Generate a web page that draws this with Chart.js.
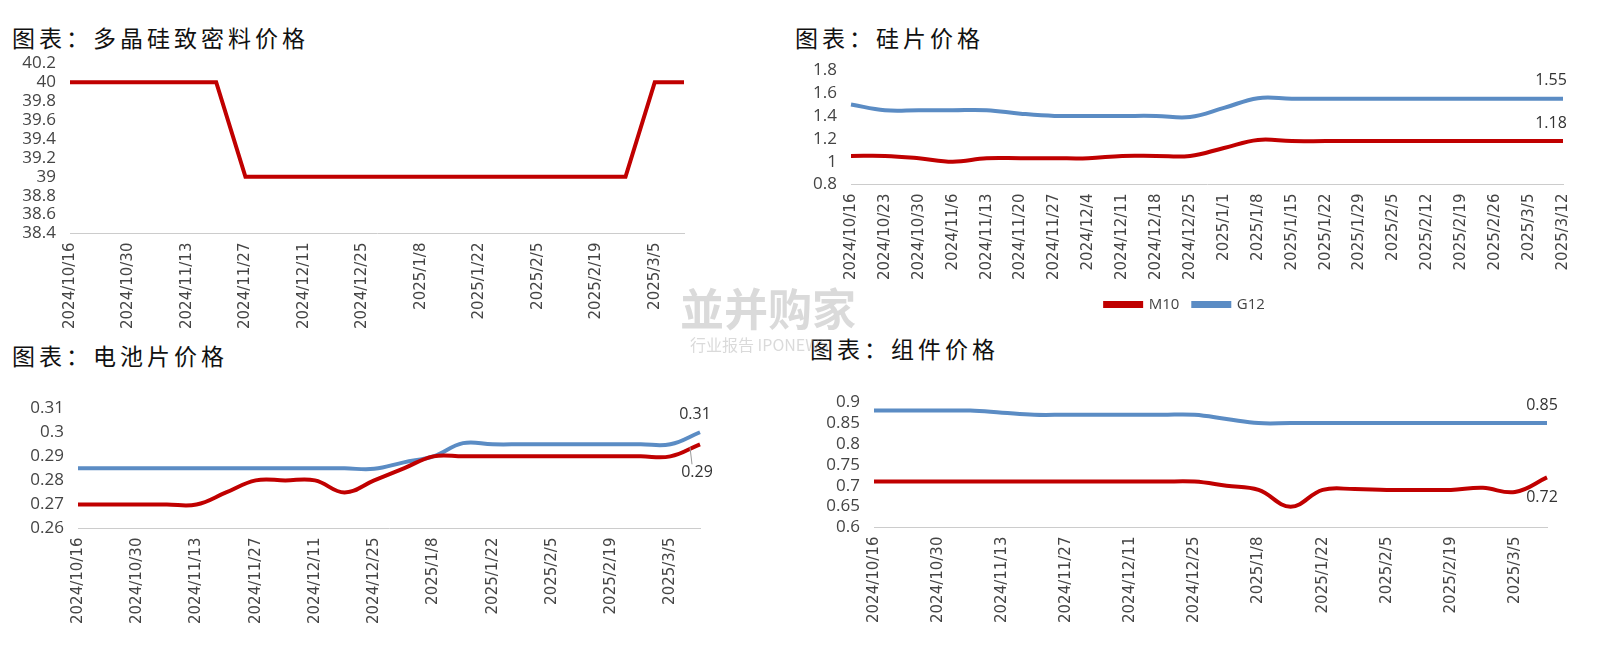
<!DOCTYPE html>
<html><head><meta charset="utf-8">
<script src="https://cdn.jsdelivr.net/npm/chart.js@4"></script>
<style>
body{margin:0;background:#fff;width:1611px;height:646px;position:relative;overflow:hidden;font-family:"Noto Sans CJK SC";}
.t{position:absolute;font-size:23px;color:#111;font-family:"Noto Sans CJK SC";letter-spacing:4px}
.c{position:absolute}
.wm{position:absolute;color:rgba(150,150,150,0.35);font-family:"Noto Sans CJK SC";}
</style></head><body>
<div class="t" style="left:12px;top:20px">图表：多晶硅致密料价格</div>
<div class="t" style="left:795px;top:20px">图表：硅片价格</div>
<div class="t" style="left:12px;top:338px">图表：电池片价格</div>
<div class="t" style="left:810px;top:331px">图表：组件价格</div>
<div class="c" style="left:15px;top:47px;width:690px;height:285px"><canvas id="c1"></canvas></div>
<div class="c" style="left:806px;top:54px;width:778px;height:268px"><canvas id="c2"></canvas></div>
<div class="c" style="left:28px;top:392px;width:697px;height:235px"><canvas id="c3"></canvas></div>
<div class="c" style="left:824px;top:386px;width:748px;height:240px"><canvas id="c4"></canvas></div>
<div class="wm" style="left:680px;top:275px;font-size:44px;font-weight:bold">並并购家</div>
<div class="wm" style="left:690px;top:332px;font-size:16px">行业报告 IPONEWS</div>
<script>
const weeks=["2024/10/16","2024/10/23","2024/10/30","2024/11/6","2024/11/13","2024/11/20","2024/11/27","2024/12/4","2024/12/11","2024/12/18","2024/12/25","2025/1/1","2025/1/8","2025/1/15","2025/1/22","2025/1/29","2025/2/5","2025/2/12","2025/2/19","2025/2/26","2025/3/5","2025/3/12"];
const polySi=[40,40,40,40,40,40,39,39,39,39,39,39,39,39,39,39,39,39,39,39,40,40];
const waferM10=[1.05,1.05,1.03,1.0,1.03,1.03,1.03,1.03,1.05,1.05,1.05,1.12,1.19,1.18,1.18,1.18,1.18,1.18,1.18,1.18,1.18,1.18];
const waferG12=[1.5,1.45,1.45,1.45,1.45,1.42,1.40,1.40,1.40,1.40,1.39,1.47,1.555,1.55,1.55,1.55,1.55,1.55,1.55,1.55,1.55,1.55];
const cellRed=[0.27,0.27,0.27,0.27,0.27,0.275,0.28,0.28,0.28,0.275,0.28,0.285,0.29,0.29,0.29,0.29,0.29,0.29,0.29,0.29,0.29,0.295];
const cellBlue=[0.285,0.285,0.285,0.285,0.285,0.285,0.285,0.285,0.285,0.285,0.2848,0.2875,0.29,0.2955,0.295,0.295,0.295,0.295,0.295,0.295,0.295,0.30];
const modRed=[0.71,0.71,0.71,0.71,0.71,0.71,0.71,0.71,0.71,0.71,0.71,0.70,0.69,0.65,0.69,0.692,0.69,0.69,0.69,0.695,0.685,0.72];
const modBlue=[0.88,0.88,0.88,0.88,0.875,0.87,0.87,0.87,0.87,0.87,0.87,0.86,0.85,0.85,0.85,0.85,0.85,0.85,0.85,0.85,0.85,0.85];
const waferLabels=["1.18","1.55"];
const cellLabels=["0.29","0.31"];
const modLabels=["0.72","0.85"];
const RED="#C00000",BLUE="#5B8CC4";
const endLabel={id:'endLabel',afterDatasetsDraw(ch,a,opts){
  const ctx=ch.ctx;ctx.save();ctx.font='16px "Open Sans"';ctx.fillStyle='#333';
  (opts.items||[]).forEach(it=>{const m=ch.getDatasetMeta(it.ds).data;const p=m[m.length-1];
    ctx.textAlign='center';ctx.textBaseline='middle';ctx.fillText(it.text,p.x+it.dx,p.y+it.dy);
    if(it.leader){ctx.strokeStyle='#999';ctx.lineWidth=1;ctx.beginPath();ctx.moveTo(p.x-10,p.y+3);ctx.lineTo(p.x-8,p.y+it.dy-8);ctx.stroke();}
  });ctx.restore();}};
function mk(id,labels,ds,yopt,xStep,extra){
  return new Chart(document.getElementById(id),{type:'line',data:{labels,datasets:ds.map(d=>({label:d.label,data:d.data,borderColor:d.c,backgroundColor:d.c,borderWidth:4,pointRadius:0,tension:d.t,fill:false}))},
  options:{responsive:true,maintainAspectRatio:false,animation:false,
   layout:{padding:extra.pad},
   plugins:{legend:extra.legend||{display:false},tooltip:{enabled:false},endLabel:{items:extra.items||[]}},
   scales:{x:{offset:false,grid:{display:false,drawTicks:true,tickLength:6,color:'#ccc'},border:{color:'#ccc'},
     ticks:{autoSkip:false,maxRotation:90,minRotation:90,color:'#444',font:{family:'DejaVu Sans',size:15},
       callback:function(v,i){return i%xStep===0?this.getLabelForValue(v):'';}}},
     y:Object.assign({grid:{display:false},border:{display:false},afterFit:s=>{s.width=extra.yw;}},yopt)}}, plugins:[endLabel]});
}
const fmt=v=>String(+v.toFixed(3));
const yt=(s)=>({stepSize:s,autoSkip:false,color:'#444',font:{family:'Open Sans',size:17},padding:6,callback:fmt});
mk('c1',weeks,[{label:'多晶硅',data:polySi,c:RED,t:0}],{min:38.4,max:40.2,ticks:yt(0.2)},2,{yw:55,pad:{right:15}});
mk('c2',weeks,[{label:'M10',data:waferM10,c:RED,t:0.4},{label:'G12',data:waferG12,c:BLUE,t:0.4}],{min:0.8,max:1.8,ticks:yt(0.2)},1,
 {yw:45,pad:{right:20},legend:{display:true,position:'bottom',labels:{boxWidth:36,boxHeight:3,padding:14,font:{family:'Open Sans',size:15},color:'#444'}},items:[{ds:0,text:waferLabels[0],dx:-12,dy:-18},{ds:1,text:waferLabels[1],dx:-12,dy:-18}]});
mk('c3',weeks,[{label:'红',data:cellRed,c:RED,t:0.4},{label:'蓝',data:cellBlue,c:BLUE,t:0.4}],{min:0.26,max:0.31,ticks:yt(0.01)},2,
 {yw:50,pad:{right:25},items:[{ds:0,text:cellLabels[0],dx:-3,dy:28,leader:true},{ds:1,text:cellLabels[1],dx:-5,dy:-18}]});
mk('c4',weeks,[{label:'红',data:modRed,c:RED,t:0.4},{label:'蓝',data:modBlue,c:BLUE,t:0.4}],{min:0.6,max:0.9,ticks:yt(0.05)},2,
 {yw:50,pad:{right:25},items:[{ds:0,text:modLabels[0],dx:-5,dy:20},{ds:1,text:modLabels[1],dx:-5,dy:-18}]});
</script></body></html>
